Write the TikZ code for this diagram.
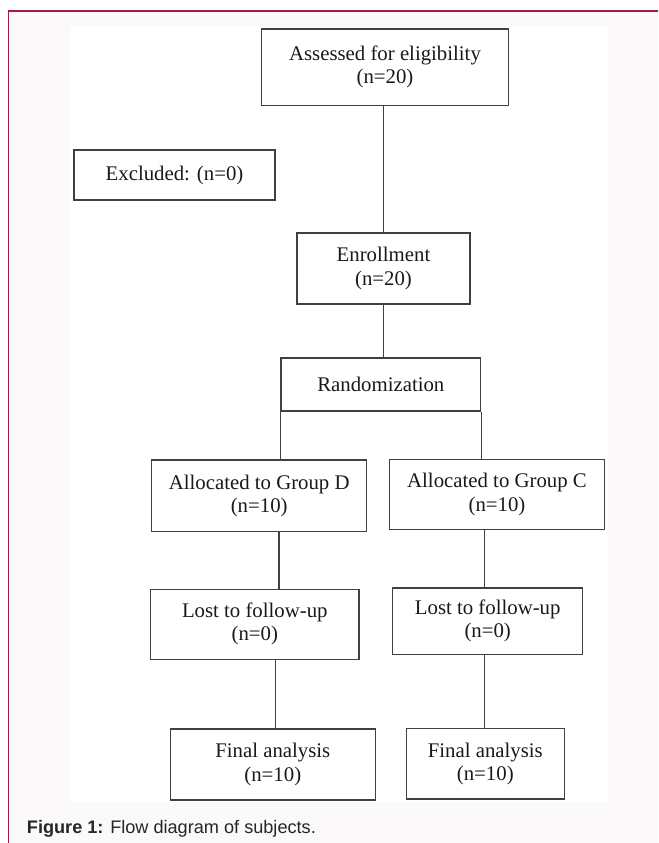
\documentclass[tikz,border=0pt]{standalone}
\usepackage{fontspec}
\setmainfont{Liberation Serif}
\newfontfamily\capfont{Liberation Sans}
\definecolor{framered}{RGB}{165,28,62}
\definecolor{pagegray}{RGB}{251,249,250}
\tikzstyle{flow}=[draw=black!75,line width=0.9pt,inner sep=0pt,align=center,text=black!90,font=\fontsize{15.6}{17.3}\selectfont]
\tikzstyle{link}=[draw=black!75,line width=0.8pt]

\begin{document}
\begin{tikzpicture}[x=0.75pt,y=-0.75pt]
				
				\useasboundingbox (0,0) rectangle (658,843);
				\fill[white] (0,0) rectangle (658,843);
				\fill[pagegray] (8.5,11) rectangle (658,843);
				\fill[white] (70,27) rectangle (608,802);
				\draw[framered,line width=1.2pt] (658,11) -- (8.5,11) -- (8.5,843);
				
				\begin{scope}
				\node [flow, minimum width=185pt, minimum height=57.5pt] (assess) at (385,67.3) {Assessed for eligibility\\(n=20)};
				\node [flow, minimum width=150.75pt, minimum height=37.5pt] (excl) at (174.5,175) {Excluded: (n=0)};
				\node [flow, minimum width=129.75pt, minimum height=53.25pt] (enrol) at (383.5,268.5) {Enrollment\\(n=20)};
				\node [flow, minimum width=149.8pt, minimum height=39.75pt] (rand) at (380.8,384.5) {Randomization};
				\node [flow, minimum width=161.25pt, minimum height=53.8pt] (grpD) at (259.2,495.8) {Allocated to Group D\\(n=10)};
				\node [flow, minimum width=161.5pt, minimum height=52.2pt] (grpC) at (497,494.5) {Allocated to Group C\\(n=10)};
				\node [flow, minimum width=156.2pt, minimum height=52.5pt] (lostD) at (254.8,624.3) {Lost to follow-up\\(n=0)};
				\node [flow, minimum width=142.5pt, minimum height=49.7pt] (lostC) at (487.7,621.2) {Lost to follow-up\\(n=0)};
				\node [flow, minimum width=153.6pt, minimum height=53.25pt] (finD) at (272.8,764.5) {Final analysis\\(n=10)};
				\node [flow, minimum width=118.65pt, minimum height=53pt] (finC) at (485.3,763.7) {Final analysis\\(n=10)};
				
				\coordinate (dtop) at (279,0);
				\coordinate (dbot) at (275.3,0);
				\coordinate (cline) at (484.7,0);
				
				\draw[link] (enrol.north |- assess.south) -- (enrol.north);
				\draw[link] (enrol.south) -- (enrol.south |- rand.north);
				\draw[link] (rand.south west) -- (rand.south west |- grpD.north);
				\draw[link] (rand.south east) -- (rand.south east |- grpC.north);
				\draw[link] (grpD.south -| dtop) -- (lostD.north -| dtop);
				\draw[link] (lostD.south -| dbot) -- (finD.north -| dbot);
				\draw[link] (grpC.south -| cline) -- (lostC.north -| cline);
				\draw[link] (lostC.south -| cline) -- (finC.north -| cline);
				\end{scope}
				
				\node [anchor=base west, inner sep=0pt, text=black!85, font=\capfont\fontsize{13.6}{16}\selectfont] (caption) at (26.7,833) {\textbf{Figure 1:} Flow diagram of subjects.};
				
				\end{tikzpicture}
\end{document}
